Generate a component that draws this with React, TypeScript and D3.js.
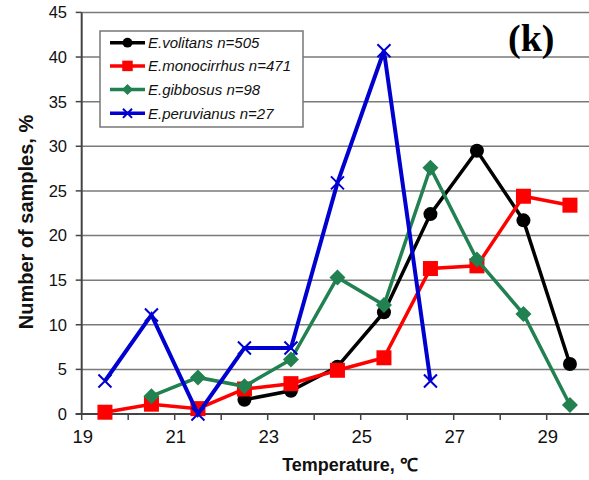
import React from "react";
import * as d3 from "d3";

const temps = [19.5, 20.5, 21.5, 22.5, 23.5, 24.5, 25.5, 26.5, 27.5, 28.5, 29.5];
const volitans = [null, null, null, 1.6, 2.6, 5.3, 11.4, 22.4, 29.5, 21.7, 5.6];
const monocirrhus = [0.2, 1.1, 0.6, 2.8, 3.4, 4.9, 6.3, 16.3, 16.6, 24.4, 23.4];
const gibbosus = [null, 2.0, 4.1, 3.1, 6.1, 15.3, 12.2, 27.6, 17.3, 11.2, 1.0];
const peruvianus = [3.7, 11.1, 0, 7.4, 7.4, 25.9, 40.7, 3.7, null, null, null];
const seriesNames = ["E.volitans n=505", "E.monocirrhus n=471", "E.gibbosus n=98", "E.peruvianus n=27"];
const xTicks = [19, 20, 21, 22, 23, 24, 25, 26, 27, 28, 29];
const xTickLabels = [19, 21, 23, 25, 27, 29];
const yTicks = [0, 5, 10, 15, 20, 25, 30, 35, 40, 45];

const W = 589;
const H = 480;

const x = d3.scaleLinear().domain([19, 30]).range([81.7, 81.7 + 11 * 46.5]);
const y = d3.scaleLinear().domain([0, 45]).range([414, 12.4]);

type Kind = "circle" | "square" | "diamond" | "cross";
const series: { name: string; values: (number | null)[]; color: string; kind: Kind; width: number }[] = [
  { name: seriesNames[0], values: volitans, color: "#000000", kind: "circle", width: 3.5 },
  { name: seriesNames[1], values: monocirrhus, color: "#ff0000", kind: "square", width: 3.5 },
  { name: seriesNames[2], values: gibbosus, color: "#218150", kind: "diamond", width: 3.5 },
  { name: seriesNames[3], values: peruvianus, color: "#0000d0", kind: "cross", width: 4 },
];

function Marker({ kind, cx, cy, color, s = 1 }: { kind: Kind; cx: number; cy: number; color: string; s?: number }) {
  if (kind === "circle") return <circle cx={cx} cy={cy} r={7 * s} fill={color} />;
  if (kind === "square") {
    const h = 7.5 * s;
    return <rect x={cx - h} y={cy - h} width={2 * h} height={2 * h} fill={color} />;
  }
  if (kind === "diamond") {
    const h = 8 * s;
    return <path d={`M${cx},${cy - h}L${cx + h},${cy}L${cx},${cy + h}L${cx - h},${cy}Z`} fill={color} />;
  }
  const h = 6.5 * s;
  return (
    <path
      d={`M${cx - h},${cy - h}L${cx + h},${cy + h}M${cx - h},${cy + h}L${cx + h},${cy - h}`}
      stroke={color}
      strokeWidth={2}
      fill="none"
    />
  );
}

export default function App() {
  const line = d3
    .line<[number, number | null]>()
    .defined((d) => d[1] !== null)
    .x((d) => x(d[0]))
    .y((d) => y(d[1] as number));

  const legendY = [42.7, 65.9, 89.5, 113.3];

  return (
    <svg width={W} height={H} style={{ position: "absolute", left: 0, top: 0, background: "#fff" }}>
      {yTicks.filter((t) => t > 0).map((t) => (
        <line key={t} x1={x(19)} x2={W} y1={y(t)} y2={y(t)} stroke="#7a7a7a" strokeWidth={1.5} />
      ))}
      <line x1={x(19)} x2={x(19)} y1={y(45)} y2={y(0)} stroke="#444" strokeWidth={2} />
      {yTicks.map((t) => (
        <g key={t}>
          <line x1={x(19) - 6} x2={x(19)} y1={y(t)} y2={y(t)} stroke="#444" strokeWidth={1.5} />
          <text x={67} y={y(t)} dy="0.36em" textAnchor="end" fontFamily="Liberation Sans, Arial, sans-serif" fontSize={16.5} fill="#111">
            {t}
          </text>
        </g>
      ))}
      <line x1={x(19) - 6} x2={W} y1={y(0)} y2={y(0)} stroke="#444" strokeWidth={2} />
      {xTicks.map((t) => (
        <line key={t} x1={x(t)} x2={x(t)} y1={y(0)} y2={y(0) + 6} stroke="#444" strokeWidth={1.5} />
      ))}
      {xTickLabels.map((t) => (
        <text key={t} x={x(t) + 1} y={443} textAnchor="middle" fontFamily="Liberation Sans, Arial, sans-serif" fontSize={18.5} fill="#111">
          {t}
        </text>
      ))}
      <text x={350} y={471} textAnchor="middle" fontFamily="Liberation Sans, Arial, sans-serif" fontWeight="bold" fontSize={18} fill="#111">
        Temperature, ℃
      </text>
      <text
        transform={`translate(33,222) rotate(-90)`}
        textAnchor="middle"
        fontFamily="Liberation Sans, Arial, sans-serif"
        fontWeight="bold"
        fontSize={20}
        fill="#111"
      >
        Number of samples, %
      </text>
      {series.map((s) => {
        const pts = temps.map((t, i) => [t, s.values[i]] as [number, number | null]);
        return (
          <g key={s.name}>
            <path d={line(pts) || ""} fill="none" stroke={s.color} strokeWidth={s.width} strokeLinejoin="miter" />
            {pts
              .filter((p) => p[1] !== null)
              .map((p, i) => (
                <Marker key={i} kind={s.kind} cx={x(p[0])} cy={y(p[1] as number)} color={s.color} />
              ))}
          </g>
        );
      })}
      <rect x={100} y={31} width={203} height={96} fill="#fff" stroke="#777" strokeWidth={1.5} />
      {series.map((s, i) => (
        <g key={s.name}>
          <line x1={110} x2={145} y1={legendY[i]} y2={legendY[i]} stroke={s.color} strokeWidth={3.5} />
          <Marker kind={s.kind} cx={127.5} cy={legendY[i]} color={s.color} s={0.7} />
          <text x={148} y={legendY[i]} dy="0.36em" fontFamily="Liberation Sans, Arial, sans-serif" fontStyle="italic" fontSize={15} fill="#111">
            {s.name}
          </text>
        </g>
      ))}
      <text x={508} y={51} fontFamily="Liberation Serif, Times New Roman, serif" fontWeight="bold" fontSize={38} fill="#000">
        (k)
      </text>
    </svg>
  );
}
